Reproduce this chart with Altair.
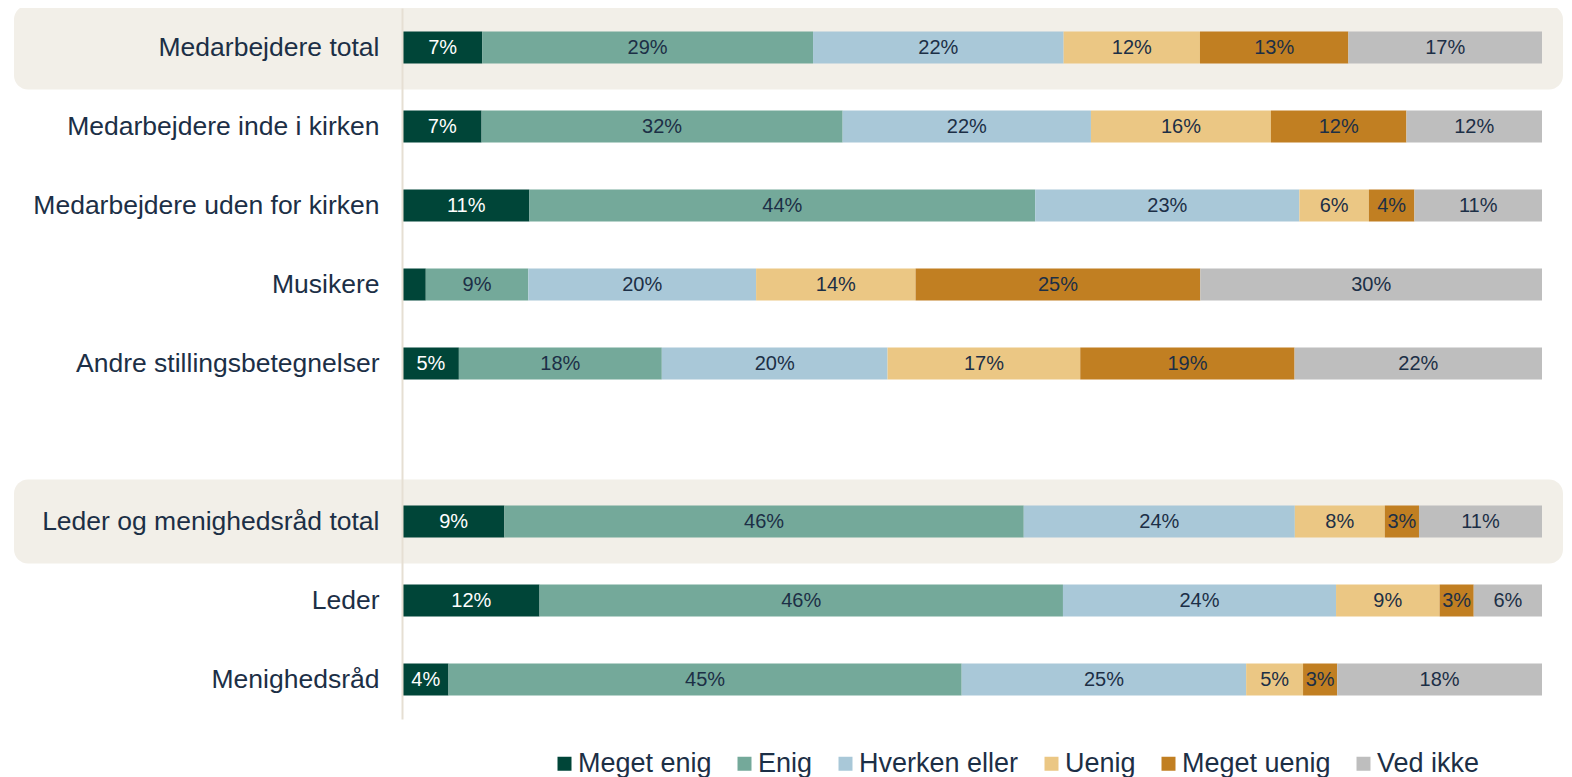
import altair as alt
import pandas as pd

groups = [
    "Medarbejdere total",
    "Medarbejdere inde i kirken",
    "Medarbejdere uden for kirken",
    "Musikere",
    "Andre stillingsbetegnelser",
    " ",
    "Leder og menighedsråd total",
    "Leder",
    "Menighedsråd",
]
data_groups = [g for g in groups if g.strip()]
highlight = ["Medarbejdere total", "Leder og menighedsråd total"]

series = ["Meget enig", "Enig", "Hverken eller", "Uenig", "Meget uenig", "Ved ikke"]
colors = ["#004538", "#74a99a", "#a9c8d8", "#ebc784", "#c17f22", "#bebebe"]

meget_enig = [6.95, 6.9, 11.1, 2.0, 4.9, 8.9, 12.0, 4.0]
enig = [29.05, 31.7, 44.4, 9.0, 17.8, 45.6, 46.0, 45.1]
hverken = [22.0, 21.8, 23.2, 20.0, 19.8, 23.8, 24.0, 25.0]
uenig = [11.97, 15.8, 6.1, 14.0, 16.9, 7.9, 9.1, 5.0]
meget_uenig = [13.03, 11.9, 4.0, 25.0, 18.8, 3.0, 3.0, 3.0]
ved_ikke = [17.0, 11.9, 11.2, 30.0, 21.7, 10.8, 6.0, 18.0]
# shown labels (rounded, blank = not shown)
labels = [
    ["7%", "29%", "22%", "12%", "13%", "17%"],
    ["7%", "32%", "22%", "16%", "12%", "12%"],
    ["11%", "44%", "23%", "6%", "4%", "11%"],
    ["", "9%", "20%", "14%", "25%", "30%"],
    ["5%", "18%", "20%", "17%", "19%", "22%"],
    ["9%", "46%", "24%", "8%", "3%", "11%"],
    ["12%", "46%", "24%", "9%", "3%", "6%"],
    ["4%", "45%", "25%", "5%", "3%", "18%"],
]

cols = [meget_enig, enig, hverken, uenig, meget_uenig, ved_ikke]
rows = []
for gi, g in enumerate(data_groups):
    for si, s in enumerate(series):
        rows.append({"group": g, "series": s, "idx": si, "value": cols[si][gi],
                     "label": labels[gi][si]})
df = pd.DataFrame(rows)
bg_df = pd.DataFrame({"group": highlight})

NAVY = "#1c2f46"
FONT = "Liberation Sans"

y_enc = alt.Y("group:N", scale=alt.Scale(domain=groups, paddingInner=0, paddingOuter=0),
              axis=alt.Axis(title=None, ticks=False, tickSize=0, labelPadding=23, offset=1,
                            labelFontSize=26.5, labelColor=NAVY, labelFont=FONT,
                            domainColor="#e6dfd3", domainWidth=2, zindex=1,
                            labelLimit=600))

bg = alt.Chart(bg_df).mark_bar(size=84, cornerRadius=14, color="#f2efe8", clip=False).encode(
    y=y_enc,
    x=alt.value(-389),
    x2=alt.value(1160),
)

bars = alt.Chart(df).mark_bar(size=32).encode(
    y=y_enc,
    x=alt.X("value:Q", stack="normalize", axis=None, scale=alt.Scale(domain=[0, 1], nice=False)),
    color=alt.Color("series:N", scale=alt.Scale(domain=series, range=colors),
                    legend=alt.Legend(title=None, orient="none", direction="horizontal",
                                      legendX=148, legendY=742, padding=0,
                                      symbolType="square", symbolSize=196, symbolStrokeWidth=0,
                                      labelFontSize=27, labelColor=NAVY, labelFont=FONT,
                                      labelOffset=0, columnPadding=19, labelLimit=400)),
    order=alt.Order("idx:Q", sort="ascending"),
)

text = alt.Chart(df).transform_stack(
    stack="value", groupby=["group"], as_=["x0", "x1"],
    sort=[alt.SortField("idx", "ascending")], offset="normalize"
).transform_calculate(
    mid="(datum.x0 + datum.x1) / 2"
).transform_filter(
    "datum.label != ''"
).mark_text(fontSize=20, font=FONT, baseline="middle", align="center").encode(
    y=y_enc,
    x=alt.X("mid:Q"),
    text="label:N",
    color=alt.condition(alt.datum.series == "Meget enig", alt.value("white"), alt.value(NAVY)),
)

chart = alt.layer(bg, bars, text).properties(
    width=1139, height=711,
    autosize=alt.AutoSizeParams(type="none"),
    padding={"left": 395, "top": 0, "right": 22, "bottom": 58},
).configure_view(stroke=None)

chart.save("out.html", embed_options={"renderer": "svg", "actions": False})
